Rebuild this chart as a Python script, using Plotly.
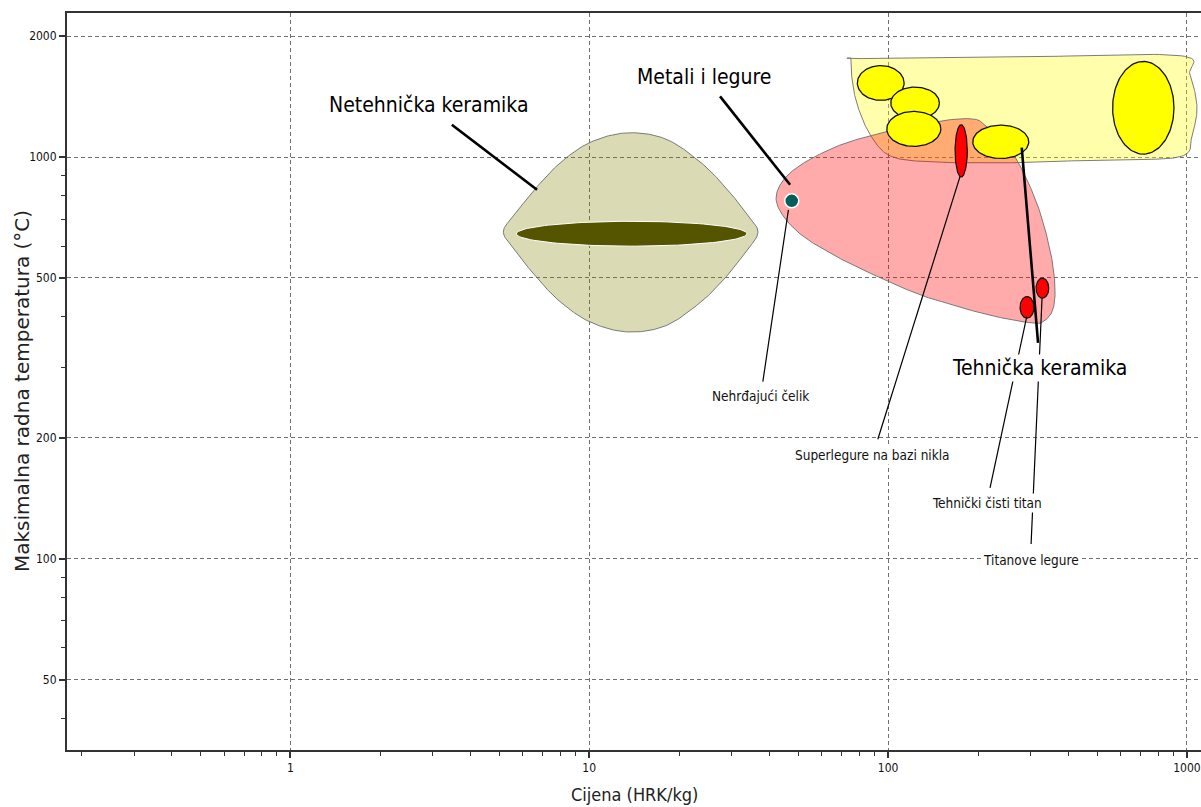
import numpy as np
import plotly.graph_objects as go

# ---------------- data (price HRK/kg, max service temperature °C) ----------------
x_range = [0.179, 1114]
y_range = [33.4, 2284]
x_tickvals = [1, 10, 100, 1000]
x_ticktext = ["1", "10", "100", "1000"]
y_tickvals = [50, 100, 200, 500, 1000, 2000]
y_ticktext = ["50", "100", "200", "500", "1000", "2000"]
x_minor_vals = [0.2, 0.3, 0.4, 0.5, 0.6, 0.7, 0.8, 0.9,
                2, 3, 4, 5, 6, 7, 8, 9,
                20, 30, 40, 50, 60, 70, 80, 90,
                200, 300, 400, 500, 600, 700, 800, 900]
y_minor_vals = [40, 60, 70, 80, 90, 300, 400, 600, 700, 800, 900]

# envelope outlines (vertices)
tech_cer_env_price = [75.2, 81.9, 265.9, 933, 1023, 1080, 1039, 948, 511.7, 261.8, 138.2, 101.6, 87.1, 78.8, 75.8, 75.5]
tech_cer_env_temp = [1758, 1759, 1773, 1791, 1603, 1334, 1137, 1002, 985, 968, 973, 1007, 1137, 1350, 1558, 1669]

metal_env_price = [42.2, 44.7, 52.1, 67.3, 87.1, 118.5, 161.2, 192.9, 208.3, 236.9, 269.4, 314.5,
                   348.2, 361.8, 355.4, 330.7, 306.2, 243, 188, 128, 87.1, 67.3, 52.1, 44.7]
metal_env_temp = [790, 878, 966, 1063, 1130, 1192, 1239, 1244, 1211, 1104, 985, 768,
                  587.5, 476, 416, 389.5, 386, 397, 416, 454, 514, 565, 634, 711]

nontech_env_price = [5.16, 5.66, 6.60, 8.00, 10.1, 13.4, 18.0, 23.5, 28.5, 33.2,
                     36.7, 33.2, 28.5, 23.5, 18.0, 13.4, 10.1, 8.00, 6.60, 5.66]
nontech_env_temp = [651, 722, 834, 968, 1089, 1149, 1110, 973, 843, 731,
                    651, 578, 500, 434, 380, 367, 388, 436, 506, 585]

# material bubbles: price range and temperature range
glass_price = [5.70, 33.7]
glass_temp = [600, 692]

cer_bubble_price_lo = [78.9, 102.1, 99.0, 192.0, 564.0]
cer_bubble_price_hi = [113.1, 148.5, 150.1, 295.5, 904.5]
cer_bubble_temp_lo = [1384, 1244, 1063, 992, 1017]
cer_bubble_temp_hi = [1689, 1494, 1299, 1201, 1730]

metal_bubble_names = ["Superlegure na bazi nikla", "Tehnički čisti titan", "Titanove legure"]
metal_bubble_price_lo = [167.5, 276.3, 312.6]
metal_bubble_price_hi = [184.1, 307.8, 344.8]
metal_bubble_temp_lo = [892, 397, 445.4]
metal_bubble_temp_hi = [1204, 449.5, 499.6]

steel_price = [47.6]
steel_temp = [778]

# leader lines: (start price, start temp) -> (end price, end temp)
thick_lead_p0 = [3.47, 27.4, 280.0]
thick_lead_t0 = [1204, 1416, 1055]
thick_lead_p1 = [6.69, 47.0, 317.5]
thick_lead_t1 = [829, 853, 344.7]

thin_lead_p0 = [46.4, 174.1, 291.0, 327.4]
thin_lead_t0 = [739, 895, 400.8, 446]
thin_lead_p1 = [38.1, 92.4, 219.3, 300.9]
thin_lead_t1 = [276, 198.4, 150.0, 108.8]

group_labels = ["Netehnička keramika", "Metali i legure", "Tehnička keramika"]
group_label_price = [2.905, 24.25, 321.6]
group_label_temp = [1350, 1585, 298]

small_labels = ["Nehrđajući čelik", "Superlegure na bazi nikla", "Tehnički čisti titan", "Titanove legure"]
small_label_price = [37.3, 88.4, 213.8, 299.7]
small_label_temp = [254.2, 181.3, 137.4, 99.3]

x_title = "Cijena (HRK/kg)"
y_title = "Maksimalna radna temperatura (°C)"

# ---------------- helpers ----------------
NARROW = "DejaVu Sans Condensed, Liberation Sans Narrow, sans-serif"


def smooth_closed(px, py, n=24):
    P = np.column_stack([np.log10(px), np.log10(py)])
    N = len(P)
    t = np.linspace(0, 1, n, endpoint=False)[:, None]
    out = []
    for i in range(N):
        p0, p1, p2, p3 = P[(i - 1) % N], P[i], P[(i + 1) % N], P[(i + 2) % N]
        pts = 0.5 * ((2 * p1) + (-p0 + p2) * t + (2 * p0 - 5 * p1 + 4 * p2 - p3) * t ** 2
                     + (-p0 + 3 * p1 - 3 * p2 + p3) * t ** 3)
        out.append(pts)
    out.append(P[:1])
    out = np.vstack(out)
    return 10 ** out[:, 0], 10 ** out[:, 1]


def ellipse(plo, phi, tlo, thi, n=120):
    cx = (np.log10(plo) + np.log10(phi)) / 2
    ax = (np.log10(phi) - np.log10(plo)) / 2
    cy = (np.log10(tlo) + np.log10(thi)) / 2
    ay = (np.log10(thi) - np.log10(tlo)) / 2
    a = np.linspace(0, 2 * np.pi, n)
    return 10 ** (cx + ax * np.cos(a)), 10 ** (cy + ay * np.sin(a))


fig = go.Figure()


def add_shape(xs, ys, fill, line_color, line_width):
    fig.add_trace(go.Scatter(x=xs, y=ys, mode="lines", fill="toself", fillcolor=fill,
                             line=dict(color=line_color, width=line_width),
                             hoverinfo="skip", showlegend=False))


# envelopes
ex, ey = smooth_closed(tech_cer_env_price, tech_cer_env_temp)
add_shape(ex, ey, "rgba(255,255,0,0.33)", "rgba(110,110,110,0.9)", 1)
ex, ey = smooth_closed(metal_env_price, metal_env_temp)
add_shape(ex, ey, "rgba(255,0,0,0.33)", "rgba(110,110,110,0.9)", 1)
ex, ey = smooth_closed(nontech_env_price, nontech_env_temp)
add_shape(ex, ey, "rgba(128,128,0,0.29)", "rgba(110,110,110,0.9)", 1)

# glass bubble
ex, ey = ellipse(glass_price[0], glass_price[1], glass_temp[0], glass_temp[1])
add_shape(ex, ey, "#555500", "white", 1)

# technical ceramics bubbles
for i in range(len(cer_bubble_price_lo)):
    ex, ey = ellipse(cer_bubble_price_lo[i], cer_bubble_price_hi[i],
                     cer_bubble_temp_lo[i], cer_bubble_temp_hi[i])
    add_shape(ex, ey, "#ffff00", "#111111", 1.3)

# metal bubbles
for i in range(len(metal_bubble_price_lo)):
    ex, ey = ellipse(metal_bubble_price_lo[i], metal_bubble_price_hi[i],
                     metal_bubble_temp_lo[i], metal_bubble_temp_hi[i])
    add_shape(ex, ey, "#ff0000", "#111111", 1.2)

# stainless steel dot
fig.add_trace(go.Scatter(x=steel_price, y=steel_temp, mode="markers",
                         marker=dict(size=14, color="#005f5a", line=dict(color="white", width=1.5)),
                         hoverinfo="skip", showlegend=False))

# leader lines
for i in range(len(thick_lead_p0)):
    fig.add_trace(go.Scatter(x=[thick_lead_p0[i], thick_lead_p1[i]], y=[thick_lead_t0[i], thick_lead_t1[i]],
                             mode="lines", line=dict(color="black", width=2.6),
                             hoverinfo="skip", showlegend=False))
for i in range(len(thin_lead_p0)):
    fig.add_trace(go.Scatter(x=[thin_lead_p0[i], thin_lead_p1[i]], y=[thin_lead_t0[i], thin_lead_t1[i]],
                             mode="lines", line=dict(color="black", width=1.2),
                             hoverinfo="skip", showlegend=False))

annotations = []
for txt, p, t in zip(group_labels, group_label_price, group_label_temp):
    annotations.append(dict(x=np.log10(p), y=np.log10(t), xref="x", yref="y", text=txt,
                            showarrow=False, bgcolor="white",
                            font=dict(family=NARROW, size=21, color="black"),
                            xanchor="center", yanchor="middle"))
for txt, p, t in zip(small_labels, small_label_price, small_label_temp):
    annotations.append(dict(x=np.log10(p), y=np.log10(t), xref="x", yref="y", text=txt,
                            showarrow=False, bgcolor="white", borderpad=1,
                            font=dict(family=NARROW, size=13.5, color="#111111"),
                            xanchor="center", yanchor="middle"))

annotations.append(dict(x=0.5, y=-0.061, xref="paper", yref="paper", text=x_title, showarrow=False,
                        font=dict(family=NARROW, size=18, color="#222222"),
                        xanchor="center", yanchor="middle"))
annotations.append(dict(x=-0.0397, y=0.487, xref="paper", yref="paper", text=y_title, showarrow=False,
                        textangle=-90, font=dict(family="DejaVu Sans, Verdana, sans-serif", size=20, color="#222222"),
                        xanchor="center", yanchor="middle"))

axis_common = dict(type="log", showline=True, linecolor="#333333", linewidth=2,
                   ticks="outside", ticklen=6, tickwidth=1.5, tickcolor="#333333",
                   showgrid=True, gridcolor="#707070", gridwidth=1, griddash="4px,3px",
                   zeroline=False, tickfont=dict(family=NARROW, size=12, color="#111111"))

fig.update_layout(
    width=1201, height=807,
    margin=dict(l=67, r=0, t=13, b=57),
    paper_bgcolor="white", plot_bgcolor="white",
    showlegend=False,
    annotations=annotations,
    xaxis=dict(axis_common, range=[np.log10(x_range[0]), np.log10(x_range[1])],
               tickmode="array", tickvals=x_tickvals, ticktext=x_ticktext, mirror=True,
               minor=dict(tickmode="array", tickvals=x_minor_vals, ticks="outside", ticklen=4,
                          tickcolor="#333333", tickwidth=1.2, showgrid=False)),
    yaxis=dict(axis_common, range=[np.log10(y_range[0]), np.log10(y_range[1])],
               tickmode="array", tickvals=y_tickvals, ticktext=y_ticktext,
               minor=dict(tickmode="array", tickvals=y_minor_vals, ticks="outside", ticklen=4,
                          tickcolor="#333333", tickwidth=1.2, showgrid=False)),
)

fig.write_html(
    "out.html",
    config={"displayModeBar": False},
    post_script="document.body.style.margin='0';document.documentElement.style.overflow='hidden';document.body.style.overflow='hidden';",
)
